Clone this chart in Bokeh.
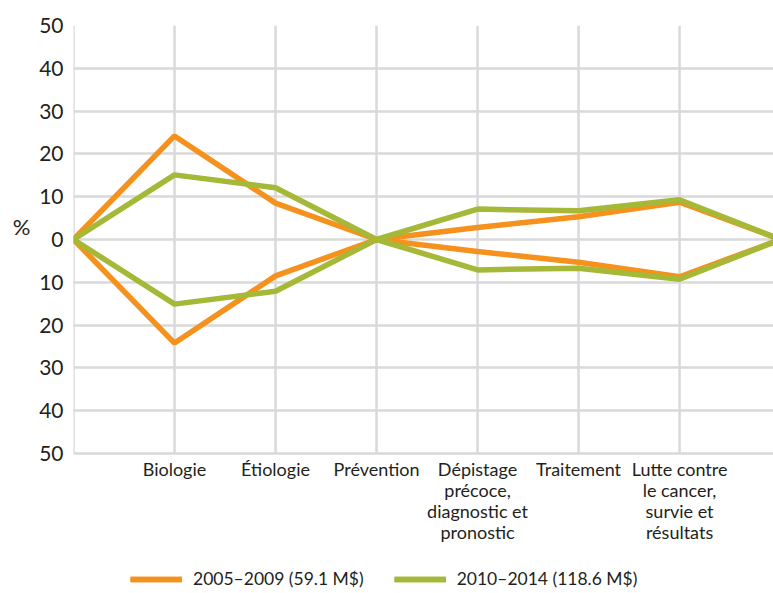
from bokeh.plotting import figure
from bokeh.models import FixedTicker, Range1d, Legend, LegendItem, LinearAxis
from bokeh.core.properties import value
from bokeh.embed import file_html
from bokeh.resources import INLINE

categories = ["Biologie", "Étiologie", "Prévention",
              "Dépistage\nprécoce,\ndiagnostic et\npronostic",
              "Traitement",
              "Lutte contre\nle cancer,\nsurvie et\nrésultats"]
series_2005 = [24.2, 8.5, 0.0, 2.8, 5.3, 8.7]
series_2010 = [15.1, 12.1, 0.0, 7.1, 6.7, 9.3]
series_names = ["2005–2009 (59.1 M$)", "2010–2014 (118.6 M$)"]
series_colors = ["#F5921E", "#A5B837"]
y_ticks = [-50, -40, -30, -20, -10, 0, 10, 20, 30, 40, 50]
unit_label = "%"

FONT = "Lato"
TXT = "#231F20"
GRID = "#D9D9D9"

n = len(categories)
xs = list(range(0, n + 2))
cat_x = list(range(1, n + 1))

PX_PER_UNIT = 4.28
FRAME_H = 568
y_bottom = y_ticks[-1] - FRAME_H / PX_PER_UNIT

p = figure(frame_width=700, frame_height=FRAME_H, output_backend="svg", toolbar_location=None,
           x_range=Range1d(0, 6.93), y_range=Range1d(y_bottom, y_ticks[-1]),
           x_axis_location=None,
           min_border_top=25, min_border_right=0, min_border_left=73, min_border_bottom=0)
p.outline_line_color = None
p.background_fill_color = "white"

# grids
p.xgrid.grid_line_color = None
p.ygrid.ticker = FixedTicker(ticks=y_ticks)
p.ygrid.grid_line_color = GRID
p.ygrid.grid_line_width = 2.5
p.segment(x0=xs, y0=[y_ticks[0]] * len(xs), x1=xs, y1=[y_ticks[-1]] * len(xs),
          line_color=GRID, line_width=2.5)

# y axis
p.yaxis.ticker = FixedTicker(ticks=y_ticks)
p.yaxis.major_label_overrides = {t: str(abs(t)) for t in y_ticks}
p.yaxis.axis_line_color = None
p.yaxis.major_tick_line_color = None
p.yaxis.minor_tick_line_color = None
p.yaxis.major_label_text_font = FONT
p.yaxis.major_label_text_font_style = "normal"
p.yaxis.major_label_text_font_size = "21px"
p.yaxis.major_label_text_color = TXT
p.yaxis.major_label_standoff = 4

# unit "%" as a second left axis with a single labelled tick
pct_axis = LinearAxis(ticker=FixedTicker(ticks=[3]), major_label_overrides={3: unit_label},
                      axis_line_color=None, major_tick_line_color=None,
                      minor_tick_line_color=None, major_label_text_font=FONT,
                      major_label_text_font_size="22px", major_label_text_color=TXT,
                      major_label_standoff=0)
p.add_layout(pct_axis, "left")

# category labels under the chart
p.text(x=cat_x, y=[y_ticks[0] - 1.1] * n, text=categories,
       text_align="center", text_baseline="top", text_font=value(FONT),
       text_font_size=value("18px"), text_color=TXT, text_line_height=0.95)

items = []
for vals, name, col in zip([series_2005, series_2010], series_names, series_colors):
    up = [0.0] + vals + [0.0]
    lo = [0.0] + [-v for v in vals] + [0.0]
    r1 = p.line(xs, up, line_color=col, line_width=5.5)
    r2 = p.line(xs, lo, line_color=col, line_width=5.5)
    items.append(LegendItem(label=name, renderers=[r1, r2]))

legend = Legend(items=items, orientation="horizontal", location=(57, 4),
                border_line_color=None, background_fill_alpha=0,
                label_text_font=FONT, label_text_font_size="17.5px", label_text_color=TXT,
                glyph_width=52, glyph_height=14, spacing=30, label_standoff=11,
                margin=0, padding=0)
p.add_layout(legend, "center")

open("out.html", "w").write(file_html(p, INLINE))
